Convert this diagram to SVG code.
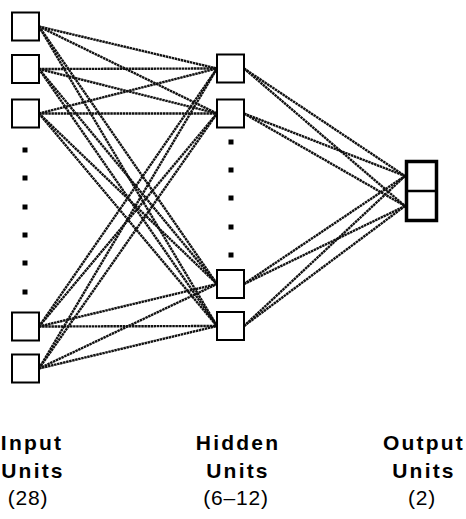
<svg xmlns="http://www.w3.org/2000/svg" width="466" height="519" viewBox="0 0 466 519">
<style>
.box{fill:#fff;stroke:#000;stroke-width:2}
.out{fill:#fff;stroke:#000;stroke-width:3.5}
.dot{fill:#000}
.c line{stroke:#111;stroke-width:2.4;stroke-dasharray:2.5 0.6}
.lb{font-family:"Liberation Sans",Arial,sans-serif;font-weight:bold;font-size:21px;letter-spacing:2.2px;text-anchor:middle;fill:#000}
.ln{font-family:"Liberation Sans",Arial,sans-serif;font-size:21px;letter-spacing:0.8px;text-anchor:middle;fill:#000}
</style>
<rect width="466" height="519" fill="#fff"/>
<g id="connectors" class="c">
<line x1="39" y1="26.5" x2="217" y2="68.5"/>
<line x1="39" y1="26.5" x2="217" y2="113.5"/>
<line x1="39" y1="26.5" x2="217" y2="284"/>
<line x1="39" y1="26.5" x2="217" y2="326"/>
<line x1="39" y1="69" x2="217" y2="68.5"/>
<line x1="39" y1="69" x2="217" y2="113.5"/>
<line x1="39" y1="69" x2="217" y2="284"/>
<line x1="39" y1="69" x2="217" y2="326"/>
<line x1="39" y1="113.5" x2="217" y2="68.5"/>
<line x1="39" y1="113.5" x2="217" y2="113.5"/>
<line x1="39" y1="113.5" x2="217" y2="284"/>
<line x1="39" y1="113.5" x2="217" y2="326"/>
<line x1="39" y1="326.5" x2="217" y2="68.5"/>
<line x1="39" y1="326.5" x2="217" y2="113.5"/>
<line x1="39" y1="326.5" x2="217" y2="284"/>
<line x1="39" y1="326.5" x2="217" y2="326"/>
<line x1="39" y1="368.5" x2="217" y2="68.5"/>
<line x1="39" y1="368.5" x2="217" y2="113.5"/>
<line x1="39" y1="368.5" x2="217" y2="284"/>
<line x1="39" y1="368.5" x2="217" y2="326"/>
<line x1="244" y1="68.5" x2="405" y2="176"/>
<line x1="244" y1="68.5" x2="405" y2="206"/>
<line x1="244" y1="113.5" x2="405" y2="176"/>
<line x1="244" y1="113.5" x2="405" y2="206"/>
<line x1="244" y1="284" x2="405" y2="176"/>
<line x1="244" y1="284" x2="405" y2="206"/>
<line x1="244" y1="326" x2="405" y2="176"/>
<line x1="244" y1="326" x2="405" y2="206"/>
</g>
<g id="input1"><rect class="box" x="12" y="12.5" width="27" height="28"/></g>
<g id="input2"><rect class="box" x="12" y="55" width="27" height="28"/></g>
<g id="input3"><rect class="box" x="12" y="99.5" width="27" height="28"/></g>
<g id="input-dots">
<rect class="dot" x="22.5" y="147.5" width="5" height="5"/>
<rect class="dot" x="22.5" y="175.5" width="5" height="5"/>
<rect class="dot" x="22.5" y="204.5" width="5" height="5"/>
<rect class="dot" x="22.5" y="232.5" width="5" height="5"/>
<rect class="dot" x="22.5" y="260.5" width="5" height="5"/>
<rect class="dot" x="22.5" y="289.5" width="5" height="5"/>
</g>
<g id="input4"><rect class="box" x="12" y="312.5" width="27" height="28"/></g>
<g id="input5"><rect class="box" x="12" y="354.5" width="27" height="28"/></g>
<g id="hidden1"><rect class="box" x="217" y="54.5" width="27" height="28"/></g>
<g id="hidden2"><rect class="box" x="217" y="99.5" width="27" height="28"/></g>
<g id="hidden-dots">
<rect class="dot" x="228.5" y="139.5" width="5" height="5"/>
<rect class="dot" x="228.5" y="167.5" width="5" height="5"/>
<rect class="dot" x="228.5" y="195.5" width="5" height="5"/>
<rect class="dot" x="228.5" y="224.5" width="5" height="5"/>
<rect class="dot" x="228.5" y="252.5" width="5" height="5"/>
</g>
<g id="hidden3"><rect class="box" x="217" y="270" width="27" height="28"/></g>
<g id="hidden4"><rect class="box" x="217" y="312" width="27" height="28"/></g>
<g id="output">
<rect class="out" x="406.5" y="161.5" width="30" height="59"/>
<line x1="406.5" y1="191" x2="436.5" y2="191" stroke="#000" stroke-width="2.5"/>
</g>
<g id="labels">
<text class="lb" x="32" y="450">Input</text>
<text class="lb" x="33" y="478">Units</text>
<text class="ln" x="28" y="505">(28)</text>
<text class="lb" x="238" y="450">Hidden</text>
<text class="lb" x="238" y="478">Units</text>
<text class="ln" x="236" y="505">(6–12)</text>
<text class="lb" x="424" y="450">Output</text>
<text class="lb" x="424" y="478">Units</text>
<text class="ln" x="422" y="505">(2)</text>
</g>
</svg>
